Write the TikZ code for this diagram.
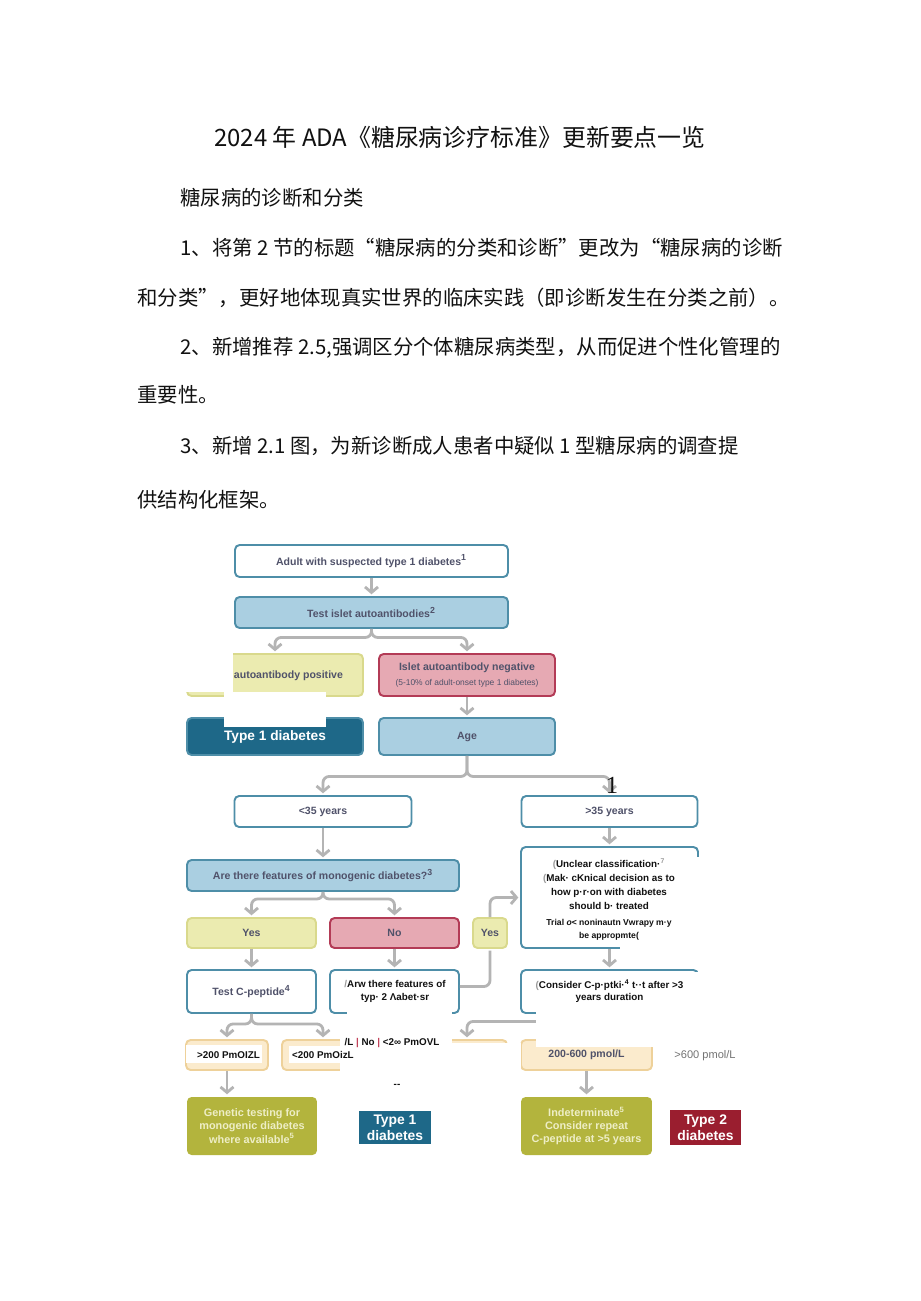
\documentclass[tikz,border=0pt]{standalone}
\usepackage{fontspec}
\setmainfont{Liberation Sans}
\newfontfamily\cjk{Noto Sans CJK SC}
\newfontfamily\strayserif{Liberation Serif}
\usetikzlibrary{arrows.meta}
\definecolor{ink}{HTML}{111111}
\definecolor{ghost}{HTML}{9A9A9A}
\definecolor{boxtext}{HTML}{50526A}
\definecolor{tealedge}{HTML}{4E8EA8}
\definecolor{skyfill}{HTML}{AACFE1}
\definecolor{lemonfill}{HTML}{EBEBB0}
\definecolor{lemonedge}{HTML}{D9D98C}
\definecolor{rosefill}{HTML}{E6A9B3}
\definecolor{roseedge}{HTML}{B33B56}
\definecolor{deepteal}{HTML}{1E6888}
\definecolor{sandfill}{HTML}{FBEBCD}
\definecolor{sandedge}{HTML}{EED19A}
\definecolor{olivefill}{HTML}{B3B43D}
\definecolor{olivetext}{HTML}{EEEEC6}
\definecolor{wine}{HTML}{9A1E2F}
\definecolor{linkgrey}{HTML}{B4B4B4}
\definecolor{barred}{HTML}{C2435A}

\begin{document}
\begin{tikzpicture}[x=0.02cm, y=-0.02cm,
    >={Straight Barb[length=1.1mm,width=2.6mm]},
    link/.style={draw=linkgrey, line width=1.6pt, rounded corners=3.5pt, shorten >=1pt},
    cbox/.style={rounded corners=2.6pt, line width=1.1pt, inner sep=0pt, align=center,
      text=boxtext, font=\fontsize{6}{7.2}\selectfont\bfseries},
    plainbox/.style={cbox, fill=white, draw=tealedge},
    skybox/.style={cbox, fill=skyfill, draw=tealedge},
    lemonbox/.style={cbox, fill=lemonfill, draw=lemonedge},
    rosebox/.style={cbox, fill=rosefill, draw=roseedge},
    sandbox/.style={cbox, fill=sandfill, draw=sandedge},
    olivebox/.style={cbox, fill=olivefill, text=olivetext, font=\fontsize{6.2}{7.5}\selectfont\bfseries},
    verdict/.style={inner sep=0pt, align=center, text=white, font=\fontsize{7.9}{9}\selectfont\bfseries},
    ocr/.style={inner sep=0pt, align=center, text=ink, font=\fontsize{5.6}{7.9}\selectfont\bfseries},
    cjkline/.style={inner sep=0pt, anchor=west, text=ink, font=\fontsize{11.6}{14}\selectfont\cjk}]
  % page of 920 x 1301 px
  \fill[white] (0,0) rectangle (920,1301);
  \path[use as bounding box] (0,0) rectangle (920,1301);

  % ================= heading text =================
  \node[cjkline, anchor=center, font=\fontsize{13.6}{16}\selectfont\cjk] (title) at (460,137)
    {2024 年 ADA《糖尿病诊疗标准》更新要点一览};
  \node[cjkline] (section) at (180,198) {糖尿病的诊断和分类};
  \node[cjkline] (item1a) at (180,248) {1、将第 2 节的标题“糖尿病的分类和诊断”更改为“糖尿病的诊断};
  \node[cjkline] (item1b) at (137,298) {和分类”，更好地体现真实世界的临床实践（即诊断发生在分类之前）。};
  \node[cjkline] (item2a) at (180,348) {2、新增推荐 2.5,强调区分个体糖尿病类型，从而促进个性化管理的};
  \node[cjkline] (item2b) at (137,395) {重要性。};
  \node[cjkline] (item3a) at (180,446) {3、新增 2.1 图，为新诊断成人患者中疑似 1 型糖尿病的调查提};
  \node[cjkline] (item3b) at (137,500) {供结构化框架。};

  % ================= flowchart boxes =================
  \node[plainbox, minimum width=5.46cm, minimum height=0.64cm] (adult) at (371.5,561)
    {Adult with suspected type 1 diabetes\textsuperscript{1}};
  \node[skybox, minimum width=5.46cm, minimum height=0.62cm] (islet) at (371.5,612.5)
    {Test islet autoantibodies\textsuperscript{2}};
  \node[lemonbox, minimum width=3.52cm, minimum height=0.84cm] (pos) at (275,675) {};
  \node[rosebox, minimum width=3.52cm, minimum height=0.84cm] (neg) at (467,675)
    {Islet autoantibody negative\\[1.5pt]{\fontsize{4.8}{5.5}\selectfont\mdseries(5-10\% of adult-onset type 1 diabetes)}};
  \node[cbox, fill=deepteal, draw=tealedge, text=white, font=\fontsize{7.8}{9}\selectfont\bfseries,
    minimum width=3.52cm, minimum height=0.74cm] (t1a) at (275,736.5) {Type 1 diabetes};
  \node[skybox, minimum width=3.52cm, minimum height=0.74cm] (age) at (467,736.5) {Age};
  \node[plainbox, minimum width=3.54cm, minimum height=0.62cm] (lt35) at (323,811.5) {<35 years};
  \node[plainbox, minimum width=3.52cm, minimum height=0.62cm] (gt35) at (609.5,811.5) {>35 years};
  \node[skybox, minimum width=5.44cm, minimum height=0.62cm] (mono) at (323,875.5)
    {Are there features of monogenic diabetes?\textsuperscript{3}};
  \node[lemonbox, minimum width=2.58cm, minimum height=0.6cm] (yes1) at (251.5,933) {Yes};
  \node[rosebox, minimum width=2.58cm, minimum height=0.6cm] (no1) at (394.5,933) {No};
  \node[lemonbox, minimum width=0.68cm, minimum height=0.6cm] (yes2) at (490,933) {Yes};
  \node[plainbox, minimum width=3.54cm, minimum height=2.02cm] (unclear) at (609.5,897.5) {};
  \node[plainbox, minimum width=2.58cm, minimum height=0.86cm] (testc) at (251.5,991.5)
    {Test C-peptide\textsuperscript{4}};
  \node[plainbox, minimum width=2.58cm, minimum height=0.86cm] (typetwo) at (394.5,991.5) {};
  \node[plainbox, minimum width=3.54cm, minimum height=0.86cm] (consider) at (609.5,991.5) {};
  \node[sandbox, minimum width=1.64cm, minimum height=0.6cm] (hi200) at (227,1055) {};
  \node[sandbox, minimum width=1.64cm, minimum height=0.6cm] (lo200) at (323,1055) {};
  \node[sandbox, minimum width=1.6cm, minimum height=0.6cm] (lo200b) at (467,1055) {};
  \node[sandbox, minimum width=2.62cm, minimum height=0.6cm] (mid600) at (586.5,1055) {200-600 pmol/L};
  \node[olivebox, minimum width=2.6cm, minimum height=1.16cm] (genetic) at (252,1126)
    {Genetic testing for\\monogenic diabetes\\where available\textsuperscript{5}};
  \node[olivebox, minimum width=2.62cm, minimum height=1.16cm] (indet) at (586.5,1126)
    {Indeterminate\textsuperscript{5}\\Consider repeat\\C-peptide at >5 years};
  \node[verdict, fill=deepteal, minimum width=1.44cm, minimum height=0.66cm] (t1b) at (395,1127.5) {Type 1\\diabetes};
  \node[verdict, fill=wine, minimum width=1.42cm, minimum height=0.70cm] (t2) at (705.5,1127.5) {Type 2\\diabetes};

  % ================= connectors =================
  \draw[link, ->] (adult) -- (islet);
  \draw[link, ->] (islet.south) -- ++(0,8.5) -| (pos.north);
  \draw[link, ->] (islet.south) -- ++(0,8.5) -| (neg.north);
  \draw[link, ->] (neg) -- (age);
  \draw[link, ->] (age.south) -- ++(0,20.5) -| (lt35.north);
  \draw[link, ->] (age.south) -- ++(0,20.5) -| (gt35.north);
  \draw[link, ->] (lt35) -- (mono);
  \draw[link, ->] (mono.south) -- ++(0,7) -| (yes1.north);
  \draw[link, ->] (mono.south) -- ++(0,7) -| (no1.north);
  \draw[link, ->] (yes1) -- (testc);
  \draw[link, ->] (no1) -- (typetwo);
  \draw[link] ([yshift=0.1cm]typetwo.east) -| (yes2.south);
  \draw[link, ->] (yes2.north) |- (unclear.west);
  \draw[link, ->] (gt35) -- (unclear);
  \draw[link, ->] (unclear) -- (consider);
  \draw[link, ->] (testc.south) -- ++(0,10) -| (hi200.north);
  \draw[link, ->] (testc.south) -- ++(0,10) -| (lo200.north);
  \draw[link, ->] (consider.south) -- ++(0,7.5) -| (lo200b.north);
  \draw[link, ->] (hi200.south) -- (hi200.south |- genetic.north);
  \draw[link, ->] (mid600) -- (indet);

  % ================= white patches over the scan =================
  \fill[white] (180,648) rectangle (233,692);
  \fill[white] (224,692) rectangle (326,727);
  \fill[white] (535,857) rectangle (706,941);
  \fill[white] (620,941) rectangle (706,962);
  \fill[white] (347,1004) rectangle (452,1032);
  \fill[white] (340,1032) rectangle (452,1108);
  \fill[white] (452,1043) rectangle (521,1108);
  \fill[white] (536,972) rectangle (746,1047);
  \fill[white] (186,1045) rectangle (262,1063);
  \fill[white] (289,1046) rectangle (340,1063);

  % ================= text on the patches =================
  \node[cbox, anchor=west] (postxt) at (233,676) {autoantibody positive};
  \node[ocr] (unclear1) at (609,884)
    {{\color{ghost}(}Unclear classification·\textsuperscript{\color{ghost}7}\\{\color{ghost}(}Mak· cKnical decision as to\\how p·r·on with diabetes\\should b· treated};
  \node[ocr, font=\fontsize{4.9}{7.4}\selectfont\bfseries] (unclear2) at (609,929.5)
    {Trial \textit{o}< noninautn Vwrapy m·y\\be appropmte(};
  \node[ocr, font=\fontsize{5.6}{7.2}\selectfont\bfseries] (typetwotxt) at (395,991.5)
    {{\color{ghost}/}Arw there features of\\typ· 2 Λabet·sr};
  \node[ocr, font=\fontsize{5.6}{6.9}\selectfont\bfseries] (considertxt) at (609.5,991)
    {{\color{ghost}(}Consider C-p·ptki·\textsuperscript{4} t··t after >3\\years duration};
  \node[ocr] (nolabel) at (392,1043) {/L {\color{barred}|} No {\color{barred}|} <2∞ PmOVL};
  \node[ocr] (hi200txt) at (228.5,1055) {>200 PmOIZL};
  \node[ocr] (lo200txt) at (323,1055) {<200 PmOizL};
  \node[ocr] (dashmark) at (397,1086) {-{}-};
  \node[inner sep=0pt, text=black!55, font=\fontsize{6.3}{7}\selectfont] (hi600txt) at (705,1056) {>600 pmol/L};
  \node[inner sep=0pt, text=ink, font=\fontsize{14}{16}\selectfont\strayserif] (strayone) at (612,785) {1};
\end{tikzpicture}
\end{document}
